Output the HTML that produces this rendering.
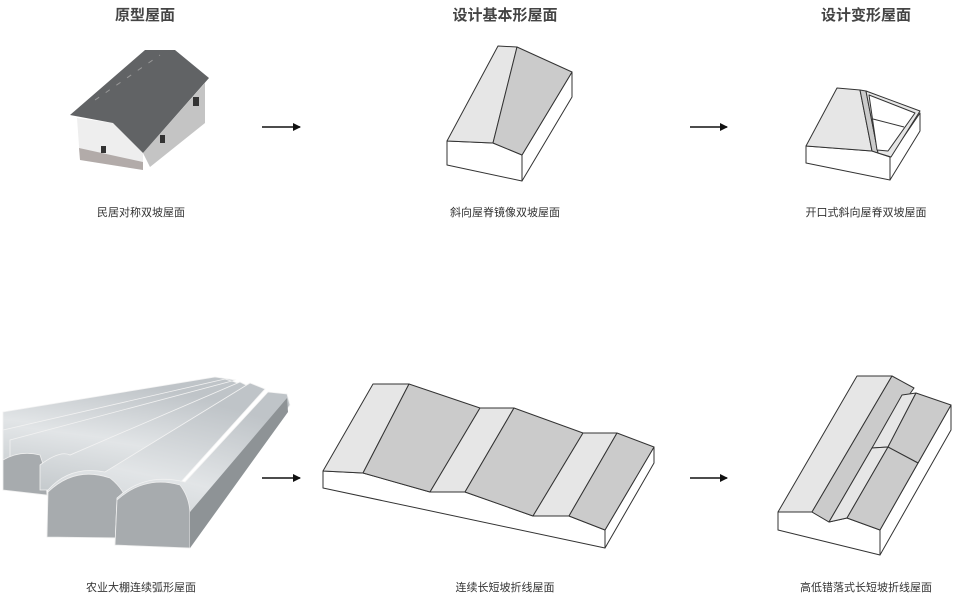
<!DOCTYPE html>
<html><head><meta charset="utf-8"><style>
html,body{margin:0;padding:0;background:#fff;width:960px;height:597px;overflow:hidden}
svg{display:block}
text{font-family:"Liberation Sans","Noto Sans CJK SC",sans-serif;fill:#333}
.t{font-size:15px;font-weight:bold;fill:#444}
.c{font-size:11px}
.l{fill:#e6e6e6;stroke:#333;stroke-width:1;stroke-linejoin:round}
.d{fill:#cbcbcb;stroke:#333;stroke-width:1;stroke-linejoin:round}
.w{fill:#fff;stroke:#333;stroke-width:1;stroke-linejoin:round}
.tn{fill:url(#g);stroke:#f2f2f2;stroke-width:0.8}
.fa{fill:#a7abae;stroke:#eee;stroke-width:0.8}
</style></head><body>
<svg width="960" height="597" viewBox="0 0 960 597">
<defs>
<marker id="a" markerWidth="8" markerHeight="8" refX="7" refY="4" orient="auto" markerUnits="userSpaceOnUse"><path d="M0,0 L8,4 L0,8 Z" fill="#111"/></marker>
<linearGradient id="g" x1="0" y1="1" x2="0.3" y2="0"><stop offset="0" stop-color="#c5cacd"/><stop offset="0.5" stop-color="#e2e5e7"/><stop offset="1" stop-color="#bfc4c8"/></linearGradient>
</defs>
<text class="t" x="145" y="20" text-anchor="middle">原型屋面</text>
<text class="t" x="505" y="20" text-anchor="middle">设计基本形屋面</text>
<text class="t" x="866" y="20" text-anchor="middle">设计变形屋面</text>

<!-- house photo -->
<polygon points="77,118 113,123 143,153 143,170 80,160" fill="#eeeeee"/>
<polygon points="79,148 143,162 143,170 80,160" fill="#8a7f7c" opacity="0.6"/>
<polygon points="143,153 205,83 205,123 150,167" fill="#c4c4c4"/>
<polygon points="70,115 145,50 175,50 209,78 143,153 113,123" fill="#616365"/>
<line x1="95" y1="100" x2="160" y2="55" stroke="#999" stroke-width="1" stroke-dasharray="5,8"/>
<rect x="101" y="146" width="5" height="7" fill="#333"/>
<rect x="160" y="135" width="5" height="8" fill="#333"/><rect x="193" y="97" width="6" height="9" fill="#333"/>

<!-- greenhouses -->
<polygon points="3,412 215,377 235,380 30,470 3,470" class="tn"/>
<polygon points="3,430 225,379 240,384 40,475 3,480" class="tn"/>
<polygon points="10,440 232,381 245,386 60,480 10,470" class="tn"/>
<path d="M3,490 L3,460 Q20,450 40,455 L45,470 L47,495 Z" class="fa"/>
<path d="M40,490 L40,465 Q60,450 70,455 L240,382 L252,388 L80,490 Z" class="tn"/>
<path d="M47,537 L48,490 Q70,465 105,472 L250,383 L265,389 L130,538 Z" class="tn"/>
<path d="M47,537 L48,492 Q75,466 110,478 Q125,490 128,505 L130,538 Z" class="fa"/>
<path d="M115,545 L117,498 Q145,472 185,482 L268,392 L287,394 L290,405 L190,548 Z" class="tn"/>
<path d="M115,545 L117,500 Q145,475 180,485 Q190,498 190,515 L190,548 Z" class="fa"/>
<polygon points="190,548 190,512 287,398 288,412" fill="#8e9396"/>

<!-- arrows -->
<line x1="262" y1="127" x2="300" y2="127" stroke="#111" stroke-width="1.5" marker-end="url(#a)"/>
<line x1="690" y1="127" x2="727" y2="127" stroke="#111" stroke-width="1.5" marker-end="url(#a)"/>
<line x1="262" y1="478" x2="300" y2="478" stroke="#111" stroke-width="1.5" marker-end="url(#a)"/>
<line x1="690" y1="478" x2="727" y2="478" stroke="#111" stroke-width="1.5" marker-end="url(#a)"/>

<!-- diagram 2 -->
<polygon class="w" points="447,141 493,143 522,155 522,181 447,165"/>
<polygon class="w" points="522,155 572,72 572,97 522,181"/>
<polygon class="l" points="498,46 517,47 493,143 447,141"/>
<polygon class="d" points="517,47 572,72 522,155 493,143"/>

<!-- diagram 3 -->
<polygon class="w" points="806,146 872,151 890,157 890,180 806,163"/>
<polygon class="w" points="890,157 920,113 920,131 890,180"/>
<polygon class="l" points="837,88 860,90 872,151 806,146"/>
<polygon class="d" points="860,90 866,91 878,153 872,151"/>
<polygon class="l" points="866,91 920,111 891,157 878,153"/>
<polygon class="w" points="869,95 915,113 888,151 877,150"/>
<line x1="873" y1="119" x2="904" y2="127" stroke="#333"/>

<!-- diagram 5 -->
<polygon class="w" points="323,471 363,473 430,492 465,492 533,516 569,516 605,530 605,548 323,488"/>
<polygon class="w" points="605,530 654,447 654,463 605,548"/>
<polygon class="l" points="373,384 409,384 363,473 323,471"/>
<polygon class="d" points="409,384 480,408 430,492 363,473"/>
<polygon class="l" points="480,408 514,408 465,492 430,492"/>
<polygon class="d" points="514,408 583,433 533,516 465,492"/>
<polygon class="l" points="583,433 617,433 569,516 533,516"/>
<polygon class="d" points="617,433 654,447 605,530 569,516"/>

<!-- diagram 6 -->
<polygon class="w" points="778,512 812,512 829,522 847,518 880,530 880,555 778,530"/>
<polygon class="w" points="880,530 951,405 951,430 880,555"/>
<polygon class="l" points="857,376 892,376 812,512 778,512"/>
<polygon class="d" points="892,376 914,388 872,448 829,522 812,512"/>
<polygon class="l" points="902,395 916,393 888,447 872,448"/>
<polygon class="d" points="916,393 951,405 918,463 888,447"/>
<polygon class="l" points="872,448 888,447 847,518 829,522"/>
<polygon class="d" points="888,447 918,463 880,530 847,518"/>

<text class="c" x="141" y="216" text-anchor="middle">民居对称双坡屋面</text>
<text class="c" x="505" y="216" text-anchor="middle">斜向屋脊镜像双坡屋面</text>
<text class="c" x="866" y="216" text-anchor="middle">开口式斜向屋脊双坡屋面</text>
<text class="c" x="141" y="591" text-anchor="middle">农业大棚连续弧形屋面</text>
<text class="c" x="505" y="591" text-anchor="middle">连续长短坡折线屋面</text>
<text class="c" x="866" y="591" text-anchor="middle">高低错落式长短坡折线屋面</text>
</svg>
</body></html>
